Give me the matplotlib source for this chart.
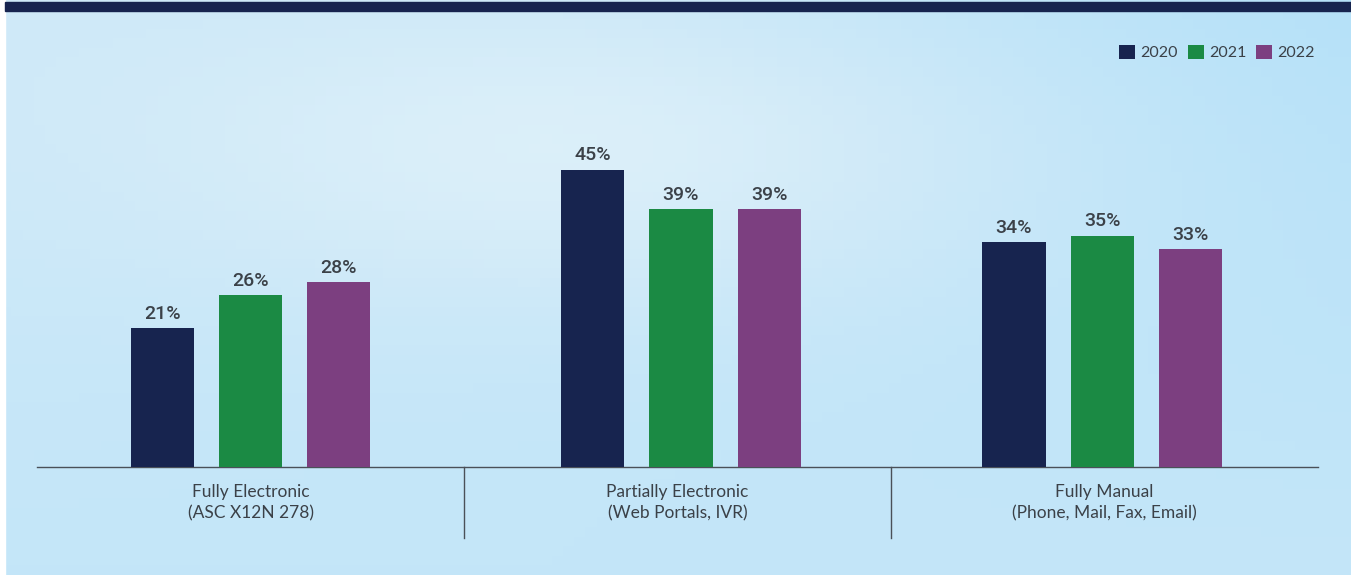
import numpy as np
import matplotlib.pyplot as plt
from matplotlib.patches import Rectangle
from matplotlib.colors import LinearSegmentedColormap

# data
categories = ['Fully Electronic\n(ASC X12N 278)',
              'Partially Electronic\n(Web Portals, IVR)',
              'Fully Manual\n(Phone, Mail, Fax, Email)']
years = ['2020', '2021', '2022']
v2020 = [21, 45, 34]
v2021 = [26, 39, 35]
v2022 = [28, 39, 33]
colors = ['#17244f', '#1b8a44', '#7c3f80']

W, H = 1351, 575
fig = plt.figure(figsize=(W / 100, H / 100), dpi=100)
plt.rcParams['font.family'] = ['Lato', 'DejaVu Sans']

# background gradient
bg = fig.add_axes([0, 0, 1, 1])
bg.set_axis_off()
yy, xx = np.mgrid[0:1:60j, 0:1:120j]
cloud = np.exp(-(((xx - 0.45) / 0.35) ** 2 + ((yy - 0.25) / 0.3) ** 2))
base = 0.45 + 0.4 * xx * (1 - yy) + 0.15 * yy
val = np.clip(base - 0.4 * cloud + 0.1, 0, 1)
cmap = LinearSegmentedColormap.from_list('sky', ['#eef8fd', '#d0eaf8', '#b2e0f8'])
bg.imshow(val, cmap=cmap, extent=[0, 1, 0, 1], aspect='auto', vmin=0, vmax=1)
bg.add_patch(Rectangle((0, 0), 5 / W, 1, color='white', transform=bg.transAxes))
bg.add_patch(Rectangle((5 / W, 1 - 11 / H), 1, 9 / H, color='#17244f', transform=bg.transAxes))
bg.set_xlim(0, 1)
bg.set_ylim(0, 1)

# main axes
left, right = 37 / W, 1318 / W
bottom = 1 - 467 / H
top = 1 - 11 / H
ax = fig.add_axes([left, bottom, right - left, top - bottom])
ax.patch.set_alpha(0)
x = np.arange(len(categories)) + 0.5
centers = x + np.array([0.0, 0.008, -0.005])
bw = 0.148
step = 0.207
for i, (vals, c, yr) in enumerate(zip([v2020, v2021, v2022], colors, years)):
    pos = centers + (i - 1) * step
    bars = ax.bar(pos, vals, width=bw, color=c, label=yr, zorder=3)
    for b, v in zip(bars, vals):
        ax.text(b.get_x() + b.get_width() / 2, v + 0.8, f'{v}%', ha='center', va='bottom',
                fontsize=14, fontweight='medium', family=['Roboto', 'DejaVu Sans'],
                color='#3b4148')

ax.set_xlim(0, 3)
ax.set_ylim(0, 69)
for s in ['top', 'right', 'left']:
    ax.spines[s].set_visible(False)
ax.spines['bottom'].set_color('#4a5058')
ax.spines['bottom'].set_linewidth(1)
ax.set_yticks([])
ax.set_xticks(x)
ax.set_xticklabels(categories, fontsize=12.5, color='#3b4148', linespacing=1.45)
ax.tick_params(axis='x', length=0, pad=12)
for d in [1, 2]:
    ax.plot([d, d], [0, -10.8], color='#4a5058', lw=1, clip_on=False)

leg = ax.legend(loc='upper right', bbox_to_anchor=(1.009, 0.958), ncol=3, frameon=False,
                fontsize=11.5, handlelength=1.0, handleheight=1.0, handletextpad=0.35,
                columnspacing=0.6, labelcolor='#3b4148')

fig.savefig('out.png', dpi=100)
